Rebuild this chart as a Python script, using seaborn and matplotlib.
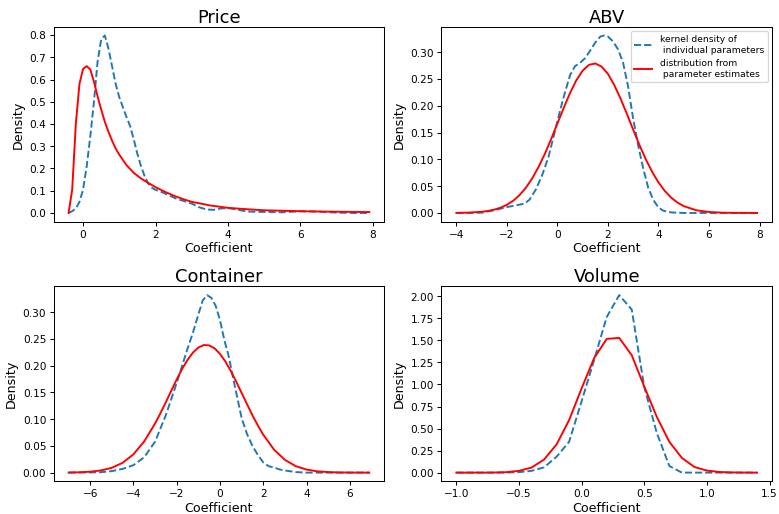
import matplotlib
matplotlib.use("Agg")
import matplotlib.pyplot as plt
from matplotlib.ticker import MultipleLocator
import seaborn as sns
import pandas as pd

# ---------------- data ----------------
titles = ["Price", "ABV", "Container", "Volume"]
label_kde = "kernel density of\n individual parameters"
label_est = "distribution from\n parameter estimates"
y_tick_steps = [0.1, 0.05, 0.05, 0.25]
x_tick_steps = [2, 2, 2, 0.5]

# Price
price_kde_x = [-0.4, -0.3, -0.2, -0.1, 0.0, 0.1, 0.2, 0.3, 0.4, 0.5, 0.6, 0.7, 0.8, 0.9,
               1.0, 1.1, 1.2, 1.3, 1.4, 1.5, 1.6, 1.7, 1.8, 1.9, 2.0, 2.2, 2.4, 2.6, 2.8,
               3.0, 3.2, 3.4, 3.6, 3.8, 4.0, 4.2, 4.4, 4.6, 5.0, 5.5, 6.0, 6.5, 7.0, 7.5, 7.9]
price_kde_y = [0.0, 0.008, 0.02, 0.05, 0.105, 0.21, 0.345, 0.5, 0.68, 0.78, 0.798, 0.74, 0.66, 0.58,
               0.52, 0.475, 0.43, 0.39, 0.33, 0.265, 0.21, 0.165, 0.132, 0.113, 0.104, 0.092, 0.077, 0.062, 0.053,
               0.042, 0.026, 0.016, 0.014, 0.02, 0.022, 0.017, 0.01, 0.006, 0.0045, 0.003, 0.0075, 0.006, 0.0015, 0.0, 0.0]
price_est_x = [-0.4, -0.3, -0.2, -0.1, 0.0, 0.1, 0.2, 0.3, 0.4, 0.5, 0.6, 0.7, 0.8, 0.9, 1.0,
               1.2, 1.4, 1.6, 1.8, 2.0, 2.25, 2.5, 2.75, 3.0, 3.5, 4.0, 4.5, 5.0, 5.5, 6.0,
               6.5, 7.0, 7.5, 7.9]
price_est_y = [0.0, 0.105, 0.40, 0.58, 0.648, 0.66, 0.645, 0.59, 0.525, 0.465, 0.41, 0.365, 0.325, 0.29, 0.262,
               0.215, 0.18, 0.155, 0.135, 0.116, 0.096, 0.078, 0.063, 0.05, 0.034, 0.023, 0.017, 0.012, 0.01, 0.0078,
               0.0066, 0.0055, 0.0047, 0.004]

# ABV
abv_kde_x = [-4.0, -3.5, -3.0, -2.5, -2.0, -1.6, -1.3, -1.1, -0.85, -0.6, -0.35, -0.1, 0.1, 0.3,
             0.5, 0.7, 0.9, 1.1, 1.3, 1.5, 1.7, 1.85, 2.0, 2.2, 2.4, 2.6, 2.8, 3.0, 3.2, 3.4,
             3.6, 3.8, 4.0, 4.2, 4.5, 5.0, 6.0, 7.0, 7.9]
abv_kde_y = [0.0, 0.0, 0.0006, 0.005, 0.011, 0.0145, 0.0175, 0.025, 0.044, 0.071, 0.105, 0.152, 0.19, 0.225,
             0.257, 0.274, 0.28, 0.289, 0.303, 0.318, 0.329, 0.331, 0.329, 0.32, 0.305, 0.28, 0.235, 0.175, 0.125, 0.082,
             0.046, 0.024, 0.01, 0.004, 0.001, 0.0, 0.0, 0.0, 0.0]
abv_est_x = [-4.0, -3.5, -3.0, -2.75, -2.5, -2.25, -2.0, -1.75, -1.5, -1.25, -1.0, -0.75, -0.5, -0.25,
             0.0, 0.25, 0.5, 0.75, 1.0, 1.25, 1.5, 1.75, 2.0, 2.25, 2.5, 2.75, 3.0, 3.25, 3.5, 3.75,
             4.0, 4.25, 4.5, 4.75, 5.0, 5.5, 6.0, 6.5, 7.0, 7.9]
abv_est_y = [0.0002, 0.0007, 0.0022, 0.0037, 0.0062, 0.0098, 0.0152, 0.0228, 0.0332, 0.047, 0.0643, 0.0855, 0.110, 0.1376,
             0.1669, 0.196, 0.2238, 0.2475, 0.2655, 0.2763, 0.2788, 0.2729, 0.2593, 0.2385, 0.2131, 0.1847, 0.1551, 0.1263, 0.0998, 0.0767,
             0.0569, 0.041, 0.0287, 0.0194, 0.0128, 0.005, 0.0018, 0.0006, 0.0002, 0.0]

# Container
cont_kde_x = [-7.0, -6.0, -5.5, -5.0, -4.5, -4.0, -3.5, -3.0, -2.5, -2.0, -1.75, -1.5, -1.25, -1.0,
              -0.8, -0.6, -0.4, -0.2, 0.0, 0.2, 0.4, 0.6, 0.8, 1.0, 1.25, 1.5, 1.75, 2.0, 2.25,
              2.5, 2.75, 3.0, 3.5, 4.0, 5.0, 6.0, 6.9]
cont_kde_y = [0.0, 0.0003, 0.0008, 0.0028, 0.007, 0.014, 0.029, 0.058, 0.108, 0.168, 0.2, 0.232, 0.262, 0.296,
              0.322, 0.332, 0.327, 0.312, 0.285, 0.248, 0.218, 0.178, 0.14, 0.102, 0.072, 0.05, 0.033, 0.019, 0.012,
              0.0095, 0.006, 0.004, 0.001, 0.0, 0.0, 0.0, 0.0]
cont_est_x = [-7.0, -6.5, -6.0, -5.5, -5.0, -4.5, -4.0, -3.5, -3.0, -2.75, -2.5, -2.25, -2.0, -1.75,
              -1.5, -1.25, -1.0, -0.75, -0.5, -0.25, 0.0, 0.25, 0.5, 0.75, 1.0, 1.25, 1.5, 1.75,
              2.0, 2.5, 3.0, 3.5, 4.0, 4.5, 5.0, 5.5, 6.0, 6.9]
cont_est_y = [0.0002, 0.0006, 0.0017, 0.0041, 0.0091, 0.0184, 0.0343, 0.0586, 0.092, 0.1115, 0.132, 0.1535, 0.1744, 0.194,
              0.211, 0.2246, 0.234, 0.2386, 0.238, 0.2325, 0.222, 0.2078, 0.190, 0.170, 0.149, 0.128, 0.107, 0.0882,
              0.0708, 0.0429, 0.0238, 0.0121, 0.0057, 0.0024, 0.001, 0.0003, 0.0001, 0.0]

# Volume
vol_x = [-1.0, -0.9, -0.8, -0.7, -0.6, -0.5, -0.4, -0.3, -0.2, -0.1, 0.0, 0.1, 0.2,
         0.3, 0.4, 0.5, 0.6, 0.7, 0.8, 0.9, 1.0, 1.1, 1.2, 1.3, 1.4]
vol_kde_y = [0.0, 0.0, 0.0, 0.0, 0.001, 0.005, 0.02, 0.06, 0.18, 0.35, 0.81, 1.28, 1.765,
             2.014, 1.85, 0.97, 0.45, 0.075, 0.0, 0.0, 0.0, 0.0, 0.0, 0.0, 0.0]
vol_est_y = [0.0, 0.0, 0.0, 0.001, 0.005, 0.02, 0.057, 0.148, 0.32, 0.596, 0.956, 1.30, 1.517,
             1.529, 1.332, 0.975, 0.633, 0.349, 0.167, 0.064, 0.023, 0.007, 0.002, 0.0005, 0.0]

panels = [
    (price_kde_x, price_kde_y, price_est_x, price_est_y),
    (abv_kde_x, abv_kde_y, abv_est_x, abv_est_y),
    (cont_kde_x, cont_kde_y, cont_est_x, cont_est_y),
    (vol_x, vol_kde_y, vol_x, vol_est_y),
]

# ---------------- plotting ----------------
DPI = 92
fig, axes = plt.subplots(2, 2, figsize=(779.4 / DPI, 514.4 / DPI), dpi=DPI)
fig.subplots_adjust(left=0.0687, right=0.9906, bottom=0.0632, top=0.9475,
                    wspace=0.1723, hspace=0.33)

for ax, title, (kx, ky, ex, ey), ys, xs in zip(axes.flat, titles, panels,
                                               y_tick_steps, x_tick_steps):
    df_k = pd.DataFrame({"Coefficient": kx, "Density": ky})
    df_e = pd.DataFrame({"Coefficient": ex, "Density": ey})
    sns.lineplot(data=df_k, x="Coefficient", y="Density", ax=ax, color="#1f77b4",
                 linestyle="--", linewidth=1.5, label=label_kde, estimator=None, sort=False)
    sns.lineplot(data=df_e, x="Coefficient", y="Density", ax=ax, color="red",
                 linewidth=1.5, label=label_est, estimator=None, sort=False)
    ax.set_title(title, fontsize=14, pad=3.4)
    ax.set_xlabel("Coefficient", fontsize=9.9, labelpad=2.2)
    ax.set_ylabel("Density", fontsize=9.9, labelpad=4)
    ax.yaxis.set_major_locator(MultipleLocator(ys))
    ax.xaxis.set_major_locator(MultipleLocator(xs))
    ax.tick_params(axis="both", labelsize=8.2, pad=2.3, length=3.4)
    if title == "ABV":
        ax.legend(loc="upper right", fontsize=7.1)
    else:
        leg = ax.get_legend()
        if leg is not None:
            leg.remove()

fig.savefig("out.png", dpi=DPI)
